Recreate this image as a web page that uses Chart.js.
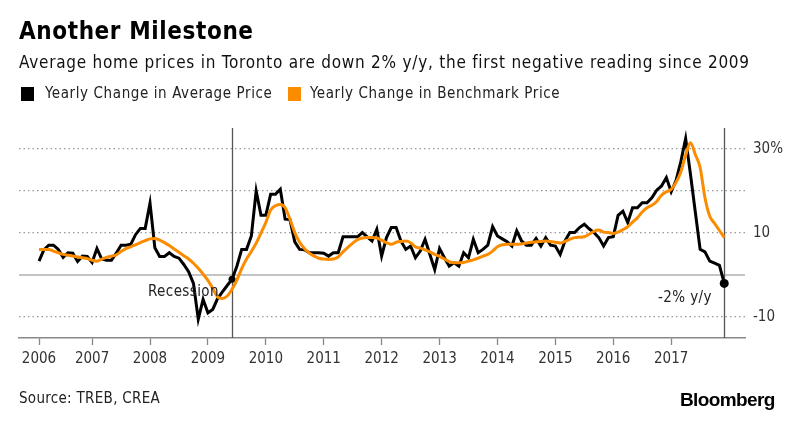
<!DOCTYPE html>
<html lang="en">
  <head>
    <meta charset="UTF-8" />
    <title>Another Milestone</title>
    <script src="https://cdn.jsdelivr.net/npm/chart.js@4.4.1/dist/chart.umd.min.js"></script>
    <style>
      body {
        margin: 0;
        background: #fff;
        font-family: "DejaVu Sans Condensed", "DejaVu Sans", sans-serif;
        font-stretch: condensed;
      }
      .wrap {
        position: relative;
        width: 800px;
        height: 421px;
        overflow: hidden;
      }
      .wrap canvas {
        position: absolute;
        left: 0;
        top: 0;
      }
      .txt {
        position: absolute;
        white-space: nowrap;
        line-height: 1;
      }
      .title {
        left: 19px;
        top: 19px;
        font-size: 24px;
        font-weight: bold;
        letter-spacing: 0.6px;
        color: #000;
      }
      .subtitle {
        left: 19px;
        top: 54px;
        font-size: 17px;
        letter-spacing: 0.75px;
        color: #111;
      }
      .legend {
        top: 86px;
        font-size: 15px;
        letter-spacing: 0.6px;
        color: #222;
      }
      .box {
        position: absolute;
        top: 87px;
        width: 13px;
        height: 14px;
      }
      .note {
        font-size: 15px;
        letter-spacing: 0.4px;
        color: #222;
      }
      .source {
        left: 19px;
        top: 391px;
        font-size: 15px;
        letter-spacing: 0.3px;
        color: #222;
      }
      .brand {
        left: 680px;
        top: 390px;
        font-family: "Liberation Sans", Arial, sans-serif;
        font-stretch: normal;
        font-size: 19px;
        font-weight: bold;
        letter-spacing: -0.6px;
        color: #000;
      }
    </style>
  </head>
  <body>
    <div class="wrap">
      <canvas id="mychart" width="800" height="421"></canvas>
      <div class="txt title">Another Milestone</div>
      <div class="txt subtitle">Average home prices in Toronto are down 2% y/y, the first negative reading since 2009</div>
      <div class="box" style="left: 21px; background: #000"></div>
      <div class="txt legend" style="left: 45px">Yearly Change in Average Price</div>
      <div class="box" style="left: 288px; background: #fb8c00"></div>
      <div class="txt legend" style="left: 310px">Yearly Change in Benchmark Price</div>
      <div class="txt note" id="recessionNote" style="left: 148px; top: 284px">Recession</div>
      <div class="txt note" id="lastNote" style="left: 658px; top: 290px">-2% y/y</div>
      <div class="txt source">Source: TREB, CREA</div>
      <div class="txt brand">Bloomberg</div>
    </div>

    <script>
      // month index 1 = first reading of 2006, one value per month
      const firstMonth = 1;
      const yearLabels = ["2006", "2007", "2008", "2009", "2010", "2011", "2012", "2013", "2014", "2015", "2016", "2017"];
      const yearTicks = [1, 12, 24, 36, 48, 60, 72, 84, 96, 108, 120, 132];
      const yTicks = [-10, 0, 10, 20, 30];
      const yTickLabels = ["-10", "", "10", "", "30%"];

      // yearly change in average price (%)
      const avgChange = [
        3.3, 6.0, 7.1, 7.1, 6.1, 4.2, 5.3, 5.2, 3.2, 4.5, 4.4, 3.0,
        6.3, 3.8, 3.5, 3.5, 5.2, 7.1, 7.1, 7.3, 9.6, 11.1, 11.1, 17.1,
        6.5, 4.4, 4.4, 5.3, 4.4, 4.0, 2.5, 0.8, -2.0, -10.5, -5.8, -9.0,
        -8.2, -5.6, -4.0, -2.5, -1.0, 2.1, 6.1, 6.1, 9.3, 20.0, 14.2, 14.2,
        19.2, 19.2, 20.4, 13.3, 13.2, 7.9, 6.1, 6.0, 5.3, 5.3, 5.3, 5.2,
        4.5, 5.3, 5.3, 9.1, 9.1, 9.1, 9.1, 10.1, 9.1, 8.1, 10.9, 4.5,
        8.9, 11.3, 11.3, 8.1, 6.1, 6.9, 4.1, 5.7, 8.5, 4.9, 1.3, 6.3,
        4.1, 2.1, 2.9, 2.1, 5.3, 4.1, 8.5, 5.3, 6.1, 7.1, 11.5, 9.3,
        8.6, 7.9, 6.9, 10.5, 8.1, 7.1, 7.1, 8.7, 6.9, 8.9, 7.1, 6.9,
        4.9, 8.1, 10.1, 10.1, 11.3, 12.1, 11.0, 10.1, 8.9, 6.9, 8.9, 9.1,
        14.2, 15.2, 12.5, 16.0, 16.0, 17.2, 17.2, 18.4, 20.2, 21.2, 23.2, 19.8,
        22.5, 27.0, 32.5, 24.0, 15.0, 6.1, 5.5, 3.3, 2.8, 2.3, -2.0,
      ];

      // yearly change in benchmark price (%)
      const benchChange = [
        6.1, 6.1, 6.1, 5.7, 5.3, 4.9, 4.7, 4.5, 4.3, 4.1, 3.9, 3.5,
        3.3, 3.8, 4.2, 4.5, 4.8, 5.6, 6.3, 6.7, 7.2, 7.7, 8.2, 8.6,
        8.7, 8.3, 7.7, 7.0, 6.2, 5.4, 4.6, 3.8, 2.8, 1.6, 0.2, -1.3,
        -3.2, -5.2, -5.6, -5.0, -3.4, -1.2, 1.5, 3.8, 5.6, 7.6, 10.0, 12.5,
        15.5, 16.5, 16.8, 16.0, 13.3, 10.1, 7.8, 6.3, 5.2, 4.5, 4.0, 3.8,
        3.7, 3.8, 4.3, 5.5, 6.6, 7.6, 8.4, 8.8, 8.9, 8.9, 8.8, 8.3,
        7.7, 7.3, 7.8, 8.0, 8.1, 7.7, 6.7, 6.4, 6.0, 5.5, 4.9, 4.4,
        3.8, 3.2, 2.9, 2.9, 3.0, 3.3, 3.6, 4.0, 4.5, 4.9, 5.7, 6.7,
        7.2, 7.3, 7.3, 7.3, 7.4, 7.6, 7.8, 7.9, 8.0, 8.1, 8.0, 7.8,
        7.6, 8.0, 8.5, 8.9, 9.0, 9.1, 9.7, 10.4, 10.7, 10.2, 10.1, 9.9,
        10.2, 10.8, 11.5, 12.6, 13.6, 15.0, 16.0, 16.6, 17.5, 19.0, 19.8, 20.4,
        22.0, 24.5, 28.5, 31.5, 28.7, 25.6, 18.4, 14.0, 12.3, 10.6, 8.9,
      ];

      // recession end and the latest reading get a marker + a vertical rule
      const recessionMonth = 41;
      const lastMonth = firstMonth + avgChange.length - 1;

      const avgPts = avgChange.map((v, i) => ({ x: firstMonth + i, y: v }));
      const benchPts = benchChange.map((v, i) => ({ x: firstMonth + i, y: v }));
      const avgRadius = avgPts.map((p) => (p.x === recessionMonth ? 3.5 : p.x === lastMonth ? 4.5 : 0));

      const tickFont = { family: "'DejaVu Sans Condensed', 'DejaVu Sans', sans-serif", size: 15 };

      // zero line and the two vertical rules
      const guides = {
        id: "guides",
        beforeDatasetsDraw(chart) {
          const { ctx, chartArea, scales } = chart;
          const y0 = scales.y.getPixelForValue(0);
          ctx.save();
          ctx.strokeStyle = "#b0b0b0";
          ctx.lineWidth = 1.5;
          ctx.beginPath();
          ctx.moveTo(chartArea.left, y0);
          ctx.lineTo(chartArea.right, y0);
          ctx.stroke();

          ctx.strokeStyle = "#555";
          ctx.lineWidth = 1.3;
          [recessionMonth, lastMonth].forEach((m) => {
            const px = Math.round(scales.x.getPixelForValue(m)) + 0.5;
            ctx.beginPath();
            ctx.moveTo(px, chartArea.top);
            ctx.lineTo(px, chartArea.bottom);
            ctx.stroke();
          });
          ctx.restore();
        },
      };

      new Chart(document.getElementById("mychart"), {
        type: "line",
        data: {
          datasets: [
            {
              label: "Yearly Change in Benchmark Price",
              data: benchPts,
              borderColor: "#fb8c00",
              borderWidth: 3,
              pointRadius: 0,
              cubicInterpolationMode: "monotone",
              order: 0,
            },
            {
              label: "Yearly Change in Average Price",
              data: avgPts,
              borderColor: "#000",
              backgroundColor: "#000",
              borderWidth: 3,
              pointRadius: avgRadius,
              pointBorderWidth: 0,
              tension: 0,
              order: 1,
            },
          ],
        },
        options: {
          responsive: false,
          animation: false,
          layout: { padding: { left: 19, top: 128, right: 0, bottom: 0 } },
          plugins: { legend: { display: false }, tooltip: { enabled: false } },
          scales: {
            x: {
              type: "linear",
              min: -3.15,
              max: 147.3,
              afterBuildTicks: (scale) => {
                scale.ticks = yearTicks.map((v) => ({ value: v }));
              },
              afterFit: (scale) => {
                scale.height = 83;
              },
              ticks: {
                autoSkip: false,
                maxRotation: 0,
                padding: 5,
                color: "#333",
                font: tickFont,
                callback: (v, i) => yearLabels[i],
              },
              grid: { drawOnChartArea: false, drawTicks: true, tickLength: 7, color: "#888", tickWidth: 1.3 },
              border: { display: true, color: "#888", width: 1.5 },
            },
            y: {
              position: "right",
              min: -15,
              max: 35,
              afterBuildTicks: (scale) => {
                scale.ticks = yTicks.map((v) => ({ value: v }));
              },
              afterFit: (scale) => {
                scale.width = 55;
              },
              ticks: {
                padding: 8,
                crossAlign: "near",
                color: "#333",
                font: tickFont,
                callback: (v) => yTickLabels[yTicks.indexOf(v)],
              },
              grid: {
                drawTicks: false,
                lineWidth: 1.2,
                color: (c) => (c.tick && c.tick.value === 0 ? "rgba(0,0,0,0)" : "#9a9a9a"),
              },
              border: { display: false, dash: [1.5, 3] },
            },
          },
        },
        plugins: [guides],
      });
    </script>
  </body>
</html>
